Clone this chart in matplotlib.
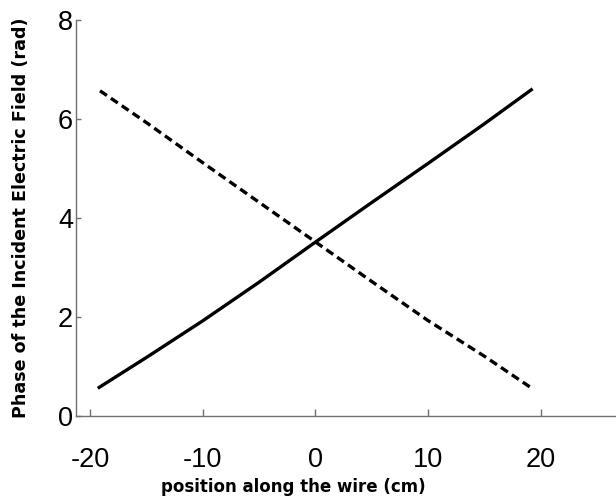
import matplotlib
matplotlib.use("Agg")
import matplotlib.pyplot as plt

plt.rcParams["axes.unicode_minus"] = False

# data
x_solid = [-19.3, -15, -10, -5, 0, 5, 10, 15, 19.3]
y_solid = [0.56, 1.18, 1.92, 2.70, 3.51, 4.31, 5.10, 5.90, 6.61]
x_dashed = [-19.1, -15, -10, -5, 0, 5, 10, 15, 19.3]
y_dashed = [6.57, 5.93, 5.12, 4.32, 3.52, 2.72, 1.93, 1.21, 0.55]

xticks = [-20, -10, 0, 10, 20]
yticks = [0, 2, 4, 6, 8]
xlabel = "position along the wire (cm)"
ylabel = "Phase of the Incident Electric Field (rad)"

W, H = 616, 496
fig = plt.figure(figsize=(W / 100, H / 100), dpi=100)
left, bottom = 75.7 / W, (H - 416) / H
ax = fig.add_axes([left, bottom, 1 - left, (416 - 20) / H])

ax.plot(x_solid, y_solid, color="black", lw=2.4, solid_capstyle="butt")
ax.plot(x_dashed, y_dashed, color="black", lw=2.4, linestyle=(0, (2.5, 1.45)),
        dash_capstyle="butt")

ax.set_xlim(-21.26, 26.7)
ax.set_ylim(0, 8)
ax.set_xticks(xticks)
ax.set_yticks(yticks)

for s in ["top", "right"]:
    ax.spines[s].set_visible(False)
for s in ["left", "bottom"]:
    ax.spines[s].set_color("#707070")
    ax.spines[s].set_linewidth(1.0)

tick_font = "Liberation Sans"
ax.tick_params(axis="x", direction="in", length=5, width=1, color="#707070",
               pad=22, labelsize=19.5)
ax.tick_params(axis="y", direction="in", length=3.5, width=1, color="#707070",
               pad=2, labelsize=19.5)
for lab in ax.get_xticklabels() + ax.get_yticklabels():
    lab.set_fontfamily(tick_font)

ax.set_xlabel(xlabel, fontsize=12, fontweight="bold", family="DejaVu Sans")
ax.set_ylabel(ylabel, fontsize=12.6, fontweight="bold", family="DejaVu Sans")
ax.xaxis.set_label_coords((293 - 75.7) / (W - 75.7), -(478 - 416) / 396)
ax.yaxis.set_label_coords(-(75.7 - 30) / (W - 75.7), 0.5)
ax.xaxis.label.set_va("top")

fig.savefig("out.png", dpi=100)
